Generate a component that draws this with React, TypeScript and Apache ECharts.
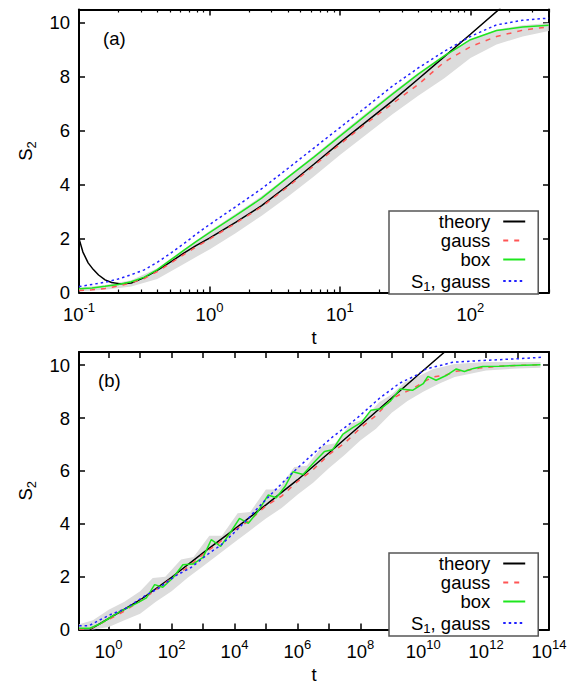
import React, { useEffect, useRef } from 'react';
import * as echarts from 'echarts';

type P = [number, number];

// ---------- panel (a): x values are log10(t) ----------
const theoryA: P[] = [
  [-1.0, 2.0], [-0.97, 1.5], [-0.93, 1.1], [-0.89, 0.85], [-0.85, 0.65], [-0.8, 0.47],
  [-0.75, 0.37], [-0.68, 0.32], [-0.6, 0.35], [-0.5, 0.55], [-0.4, 0.82], [-0.3, 1.13],
  [-0.2, 1.45], [-0.1, 1.75], [0.0, 2.02], [0.2, 2.6], [0.4, 3.22], [0.6, 3.97],
  [0.8, 4.76], [1.0, 5.56], [1.2, 6.33], [1.4, 7.1], [1.6, 7.92], [1.8, 8.75],
  [2.0, 9.58], [2.23, 10.55],
];
const gaussA: P[] = [
  [-1.0, 0.07], [-0.9, 0.1], [-0.8, 0.15], [-0.7, 0.24], [-0.6, 0.36], [-0.5, 0.52],
  [-0.4, 0.78], [-0.3, 1.08], [-0.2, 1.4], [-0.1, 1.7], [0.0, 1.98], [0.2, 2.57],
  [0.4, 3.18], [0.6, 3.92], [0.8, 4.7], [1.0, 5.5], [1.2, 6.27], [1.4, 7.0],
  [1.6, 7.72], [1.8, 8.55], [2.0, 9.12], [2.2, 9.5], [2.4, 9.73], [2.6, 9.86],
];
const boxA: P[] = [
  [-1.0, 0.14], [-0.9, 0.17], [-0.8, 0.23], [-0.7, 0.3], [-0.6, 0.4], [-0.5, 0.57],
  [-0.4, 0.85], [-0.3, 1.2], [-0.2, 1.55], [-0.1, 1.9], [0.0, 2.22], [0.2, 2.85],
  [0.4, 3.5], [0.6, 4.27], [0.8, 5.02], [1.0, 5.8], [1.2, 6.58], [1.4, 7.35],
  [1.6, 8.1], [1.8, 8.78], [1.9, 9.08], [2.0, 9.38], [2.2, 9.72], [2.4, 9.85], [2.6, 9.92],
];
const s1GaussA: P[] = [
  [-1.0, 0.22], [-0.9, 0.3], [-0.8, 0.38], [-0.7, 0.5], [-0.6, 0.66], [-0.5, 0.84],
  [-0.4, 1.12], [-0.3, 1.45], [-0.2, 1.8], [-0.1, 2.17], [0.0, 2.52], [0.2, 3.18],
  [0.4, 3.85], [0.6, 4.6], [0.8, 5.36], [1.0, 6.12], [1.2, 6.88], [1.4, 7.65],
  [1.6, 8.33], [1.8, 8.95], [2.0, 9.5], [2.2, 9.93], [2.4, 10.1], [2.6, 10.18],
];
const bandUpperA: P[] = [
  [-1.0, 0.18], [-0.8, 0.28], [-0.6, 0.45], [-0.4, 0.9], [-0.2, 1.6], [0.0, 2.28],
  [0.2, 2.92], [0.4, 3.58], [0.6, 4.32], [0.8, 5.08], [1.0, 5.88], [1.2, 6.66],
  [1.4, 7.42], [1.6, 8.15], [1.8, 8.83], [2.0, 9.4], [2.2, 9.75], [2.4, 9.92], [2.6, 10.0],
];
const bandLowerA: P[] = [
  [-1.0, 0.04], [-0.8, 0.1], [-0.6, 0.22], [-0.4, 0.5], [-0.2, 1.05], [0.0, 1.6],
  [0.2, 2.2], [0.4, 2.85], [0.6, 3.55], [0.8, 4.3], [1.0, 5.1], [1.2, 5.85],
  [1.4, 6.6], [1.6, 7.3], [1.8, 7.95], [2.0, 8.7], [2.2, 9.2], [2.4, 9.5], [2.6, 9.7],
];

// ---------- panel (b): x values are log10(t) ----------
const theoryB: P[] = [
  [-0.6, 0.0], [0, 0.42], [1, 1.12], [2, 1.98], [3, 2.9], [4, 3.8], [5, 4.72],
  [6, 5.66], [7, 6.68], [8, 7.72], [9, 8.76], [10, 9.8], [10.7, 10.52],
];
const gaussB: P[] = [
  [-0.94, 0.02], [-0.6, 0.03], [0, 0.38], [0.5, 0.7], [1, 1.08], [1.5, 1.5], [2, 1.95],
  [2.5, 2.35], [3, 2.85], [3.5, 3.28], [4, 3.75], [4.5, 4.15], [5, 4.68], [5.5, 5.05],
  [6, 5.6], [6.5, 6.05], [7, 6.62], [7.5, 7.05], [8, 7.62], [8.5, 8.1], [9, 8.72],
  [9.3, 8.92], [9.67, 9.11], [10.0, 9.36], [10.3, 9.55], [10.73, 9.63], [11.05, 9.77],
  [11.42, 9.82], [11.79, 9.89], [12.4, 9.96], [13, 9.99], [13.73, 10.02],
];
const boxB: P[] = [
  [-0.94, 0.05], [-0.6, 0.05], [-0.3, 0.2], [0.0, 0.42], [0.3, 0.64], [0.6, 0.82],
  [0.9, 1.0], [1.2, 1.2], [1.46, 1.7], [1.72, 1.6], [2.04, 1.95], [2.36, 2.45],
  [2.68, 2.48], [3.0, 2.73], [3.26, 3.4], [3.56, 3.15], [3.89, 3.71], [4.16, 4.21],
  [4.44, 4.02], [4.74, 4.46], [5.07, 5.09], [5.33, 4.99], [5.6, 5.4], [5.86, 5.97],
  [6.18, 5.87], [6.54, 6.34], [6.86, 6.74], [7.12, 6.8], [7.44, 7.38], [7.76, 7.64],
  [8.05, 7.85], [8.34, 8.3], [8.65, 8.35], [8.97, 8.66], [9.27, 9.1], [9.66, 9.05],
  [10.0, 9.3], [10.15, 9.58], [10.41, 9.43], [10.73, 9.61], [11.05, 9.86], [11.31, 9.76],
  [11.6, 9.88], [11.89, 9.95], [12.42, 9.96], [12.95, 9.99], [13.73, 10.02],
];
const s1GaussB: P[] = [
  [-0.94, 0.15], [-0.62, 0.15], [-0.34, 0.33], [0.08, 0.58], [0.51, 0.78], [1.14, 1.27],
  [1.57, 1.55], [2.1, 2.02], [2.62, 2.35], [3.15, 2.85], [3.57, 3.2], [4.0, 3.68],
  [4.42, 4.18], [4.74, 4.6], [5.23, 5.2], [5.86, 5.95], [6.5, 6.65], [7.13, 7.3],
  [7.87, 7.97], [8.61, 8.75], [9.25, 9.32], [9.78, 9.62], [10.1, 9.86], [10.94, 10.11],
  [11.89, 10.18], [12.95, 10.24], [13.75, 10.3],
];
const bandUpperB: P[] = [
  [-0.94, 0.2], [-0.5, 0.35], [0, 0.75], [0.5, 1.05], [1.0, 1.45], [1.4, 1.95], [1.8, 2.0],
  [2.3, 2.65], [2.7, 2.75], [3.2, 3.55], [3.6, 3.55], [4.1, 4.4], [4.5, 4.45], [5.0, 5.3],
  [5.4, 5.3], [5.9, 6.15], [6.3, 6.2], [6.8, 6.95], [7.2, 7.05], [7.7, 7.8], [8.1, 7.95],
  [8.6, 8.6], [9.0, 8.9], [9.4, 9.35], [9.8, 9.55], [10.3, 9.85], [11, 10.05], [12, 10.12],
  [13, 10.12], [13.73, 10.12],
];
const bandLowerB: P[] = [
  [-0.94, 0.0], [-0.5, 0.0], [0, 0.1], [0.5, 0.35], [1.0, 0.6], [1.5, 1.05], [2.0, 1.45],
  [2.5, 1.95], [3.0, 2.4], [3.5, 2.85], [4.0, 3.3], [4.5, 3.75], [5.0, 4.2], [5.5, 4.6],
  [6.0, 5.1], [6.5, 5.55], [7.0, 6.1], [7.5, 6.6], [8.0, 7.15], [8.5, 7.6], [9.0, 8.2],
  [9.5, 8.65], [10.0, 9.0], [10.5, 9.3], [11, 9.55], [12, 9.8], [13, 9.88], [13.73, 9.9],
];

// ---------- ticks ----------
const majorTicksA = [0.1, 1, 10, 100];
const minorTicksA = [
  0.2, 0.3, 0.4, 0.5, 0.6, 0.7, 0.8, 0.9,
  2, 3, 4, 5, 6, 7, 8, 9,
  20, 30, 40, 50, 60, 70, 80, 90,
  200, 300, 400,
];
const tickExpB = [0, 1, 2, 3, 4, 5, 6, 7, 8, 9, 10, 11, 12, 13, 14];
const labelExpB = [0, 2, 4, 6, 8, 10, 12, 14];
const yTicks = [0, 2, 4, 6, 8, 10];
const legendNames = ['theory', 'gauss', 'box', 'S1, gauss'];

const FONT = '"Liberation Sans", Arial, Helvetica, sans-serif';
const FS = 18.5;

const supRich = {
  b: { fontSize: FS, fontFamily: FONT, color: '#000', lineHeight: 19, verticalAlign: 'middle' },
  s: { fontSize: 13, fontFamily: FONT, color: '#000', lineHeight: 6, padding: [0, 0, 13, 0], verticalAlign: 'middle' },
};
const subRich = {
  n: { fontSize: FS, fontFamily: FONT, color: '#000', lineHeight: 19, verticalAlign: 'middle' },
  sub: { fontSize: 13, fontFamily: FONT, color: '#000', lineHeight: 6, padding: [11, 0, 0, 0], verticalAlign: 'middle' },
};
const legendRich = {
  n: { fontSize: FS, fontFamily: FONT, color: '#000', lineHeight: 16, verticalAlign: 'middle' },
  e: { fontSize: FS, fontFamily: FONT, color: '#000', lineHeight: 16, verticalAlign: 'middle', padding: [0, 8, 0, 0] },
  sub: { fontSize: 13, fontFamily: FONT, color: '#000', lineHeight: 1, padding: [11, 0, 0, 0], verticalAlign: 'middle' },
};

const log10 = (v: number) => Math.log10(v);
const expLabel = (v: number) => `{b|10}{s|${Math.round(v)}}`;

function xAxes(grid: number, min: number, max: number, majors: number[], labels: number[], minors: number[] | null, nameGap: number) {
  const base = { gridIndex: grid, type: 'value', min, max, splitLine: { show: false } };
  const axes: any[] = [
    {
      ...base,
      position: 'bottom',
      name: 't',
      nameLocation: 'middle',
      nameGap,
      nameTextStyle: { fontSize: FS, fontFamily: FONT, color: '#000' },
      axisLine: { show: true, onZero: false, lineStyle: { color: '#000', width: 2 } },
      axisTick: { show: true, inside: true, length: 6, customValues: majors, lineStyle: { color: '#000', width: 1.5 } },
      axisLabel: { show: true, margin: 12, customValues: labels, formatter: expLabel, rich: supRich },
    },
    {
      ...base,
      position: 'top',
      axisLine: { show: true, onZero: false, lineStyle: { color: '#000', width: 2 } },
      axisTick: { show: true, inside: true, length: 6, customValues: majors, lineStyle: { color: '#000', width: 1.5 } },
      axisLabel: { show: false },
    },
  ];
  if (minors) {
    for (const pos of ['bottom', 'top']) {
      axes.push({
        ...base,
        position: pos,
        axisLine: { show: false, onZero: false },
        axisTick: { show: true, inside: true, length: 3, customValues: minors, lineStyle: { color: '#000', width: 1.2 } },
        axisLabel: { show: false },
      });
    }
  }
  return axes;
}

function yAxes(grid: number) {
  const base = { gridIndex: grid, type: 'value', min: 0, max: 10.5, splitLine: { show: false } };
  return [
    {
      ...base,
      position: 'left',
      name: '{n|S}{sub|2}',
      nameLocation: 'middle',
      nameGap: 44,
      nameTextStyle: { rich: subRich },
      axisLine: { show: true, onZero: false, lineStyle: { color: '#000', width: 2 } },
      axisTick: { show: true, inside: true, length: 6, customValues: yTicks, lineStyle: { color: '#000', width: 1.5 } },
      axisLabel: { show: true, margin: 9, customValues: yTicks, fontSize: FS, lineHeight: 12, fontFamily: FONT, color: '#000' },
    },
    {
      ...base,
      position: 'right',
      axisLine: { show: true, onZero: false, lineStyle: { color: '#000', width: 2 } },
      axisTick: { show: true, inside: true, length: 6, customValues: yTicks, lineStyle: { color: '#000', width: 1.5 } },
      axisLabel: { show: false },
    },
  ];
}

function bandSeries(upper: P[], lower: P[], xi: number, yi: number) {
  return {
    type: 'custom',
    xAxisIndex: xi,
    yAxisIndex: yi,
    silent: true,
    z: 1,
    data: upper,
    renderItem: (params: any, api: any) => {
      if (params.dataIndex !== 0) return null;
      const pts = [...upper.map((p) => api.coord(p)), ...lower.slice().reverse().map((p) => api.coord(p))];
      return { type: 'polygon', shape: { points: pts }, style: { fill: '#dcdcdc', stroke: null } };
    },
  };
}

function lineSeries(name: string, data: P[], xi: number, yi: number, color: string, type: any, width: number) {
  return {
    type: 'line',
    name,
    data,
    xAxisIndex: xi,
    yAxisIndex: yi,
    symbol: 'none',
    showSymbol: false,
    silent: true,
    z: 3,
    lineStyle: { color, width, type },
    itemStyle: { color },
  };
}

function legendFor(top: number) {
  return {
    data: legendNames,
    orient: 'vertical',
    align: 'right',
    left: 389,
    top,
    itemWidth: 22,
    itemHeight: 2,
    itemGap: 0,
    padding: [1, 12, 1, 22],
    borderColor: '#555',
    borderWidth: 1.5,
    borderRadius: 0,
    backgroundColor: '#fff',
    selectedMode: false,
    itemStyle: { opacity: 0, borderWidth: 0 },
    formatter: (name: string) => (name === 'S1, gauss' ? '{n|S}{sub|1}{e|, gauss}' : `{e|${name}}`),
    textStyle: { rich: legendRich },
  };
}

export default function App() {
  const ref = useRef<HTMLDivElement>(null);
  useEffect(() => {
    if (!ref.current) return;
    const chart = echarts.init(ref.current, null, { renderer: 'svg' });
    const xa = xAxes(0, -1, log10(400), majorTicksA.map(log10), majorTicksA.map(log10), minorTicksA.map(log10), 29);
    const xb = xAxes(1, -0.944, 14, tickExpB, labelExpB, null, 33);
    const option: any = {
      animation: false,
      textStyle: { fontFamily: FONT },
      grid: [
        { left: 79, top: 9.5, width: 470, height: 283 },
        { left: 79, top: 352, width: 470, height: 280.5 },
      ],
      xAxis: [...xa, ...xb], // 0..3 panel a, 4..5 panel b
      yAxis: [...yAxes(0), ...yAxes(1)], // 0..1 panel a, 2..3 panel b
      legend: [legendFor(211), legendFor(553)],
      graphic: [
        { type: 'text', left: 103, top: 29, style: { text: '(a)', fontSize: FS, fontFamily: FONT, fill: '#000' } },
        { type: 'text', left: 98, top: 371, style: { text: '(b)', fontSize: FS, fontFamily: FONT, fill: '#000' } },
      ],
      series: [
        bandSeries(bandUpperA, bandLowerA, 0, 0),
        lineSeries('theory', theoryA, 0, 0, '#000000', 'solid', 1.5),
        lineSeries('gauss', gaussA, 0, 0, '#ff5555', [5, 6], 1.5),
        lineSeries('box', boxA, 0, 0, '#1ee61e', 'solid', 1.5),
        lineSeries('S1, gauss', s1GaussA, 0, 0, '#2020ff', [2.5, 3], 1.5),
        bandSeries(bandUpperB, bandLowerB, 4, 2),
        lineSeries('theory', theoryB, 4, 2, '#000000', 'solid', 1.5),
        lineSeries('gauss', gaussB, 4, 2, '#ff5555', [5, 6], 1.5),
        lineSeries('box', boxB, 4, 2, '#1ee61e', 'solid', 1.5),
        lineSeries('S1, gauss', s1GaussB, 4, 2, '#2020ff', [2.5, 3], 1.5),
      ],
    };
    chart.setOption(option);
    return () => chart.dispose();
  }, []);
  return <div ref={ref} style={{ position: 'fixed', left: 0, top: 0, width: 578, height: 685, background: '#fff' }} />;
}
